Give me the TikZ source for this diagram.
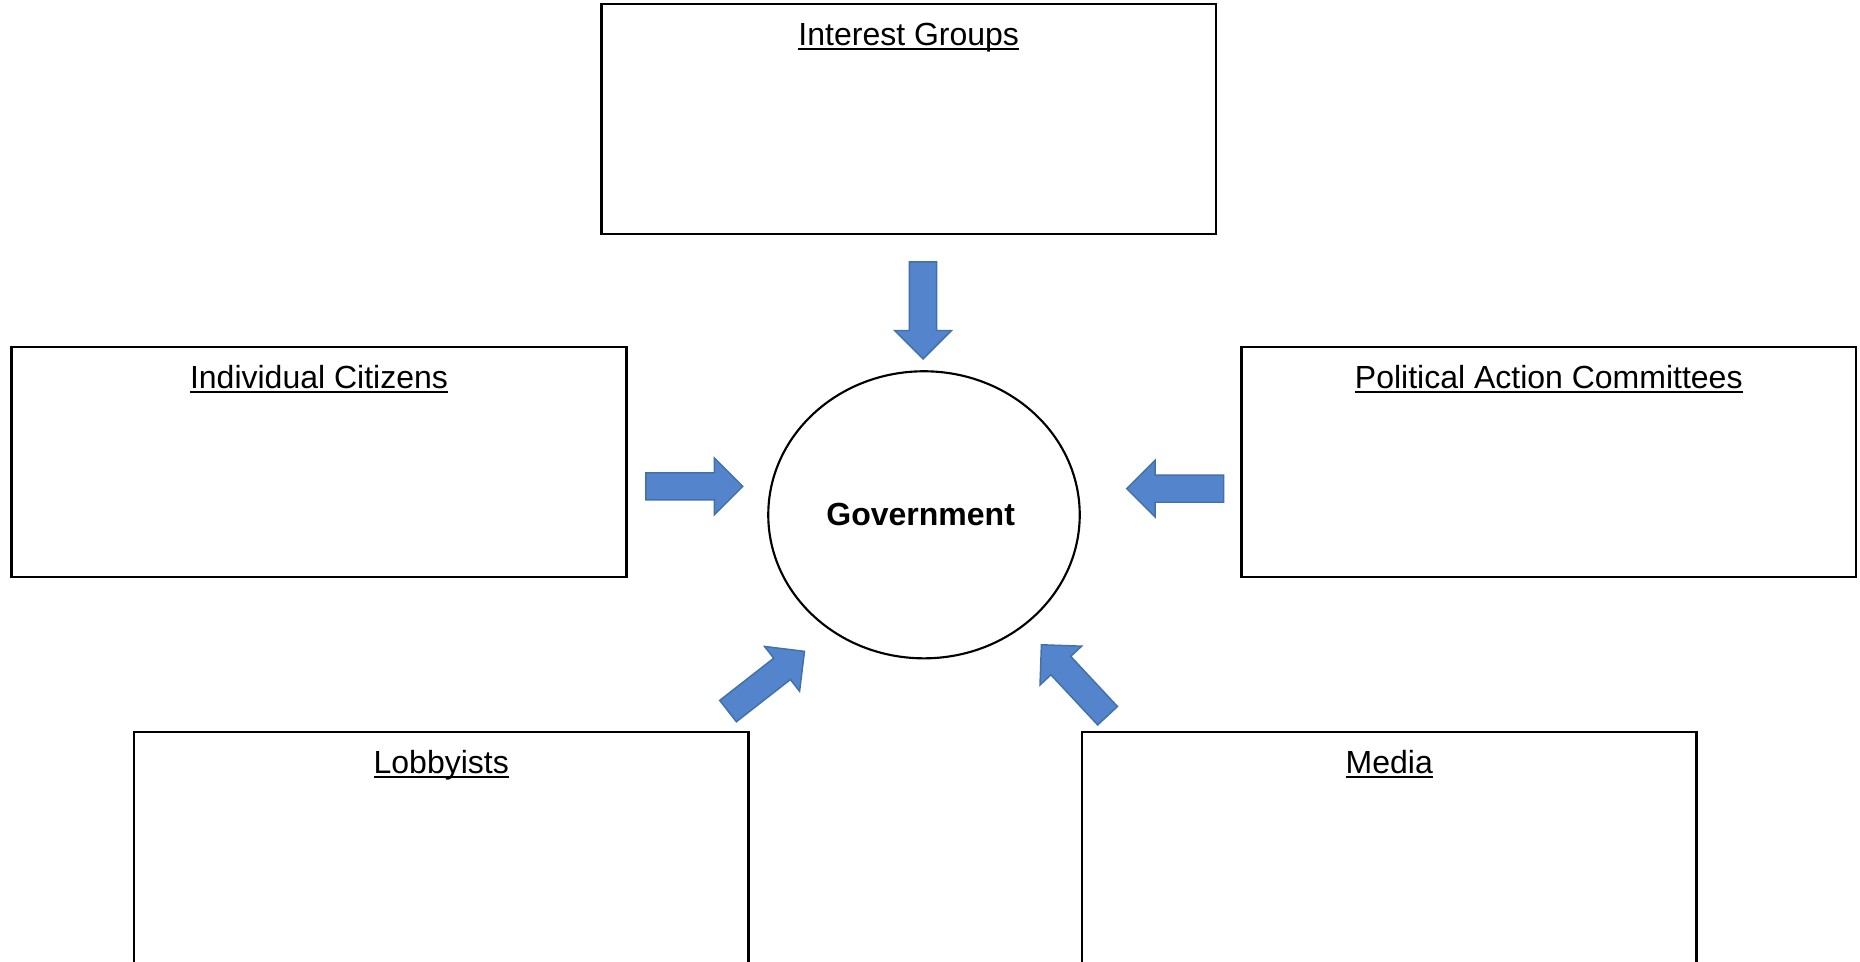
\documentclass[tikz,border=0pt]{standalone}
\usepackage{fontspec}
\setmainfont{Liberation Sans}
\usetikzlibrary{shapes.geometric,shapes.arrows,calc}
\definecolor{arrowfill}{RGB}{84,132,204}
\definecolor{arrowline}{RGB}{65,113,170}
\newcommand{\undertext}[1]{\setbox0\hbox{#1}\rlap{\rule[-0.15em]{\wd0}{0.055em}}\box0}
\tikzset{
  groupbox/.style={draw, line width=1.9pt, minimum width=460.9pt, minimum height=172.5pt, inner sep=0pt},
  grouplabel/.style={anchor=base, inner sep=0pt, font=\fontsize{24}{28}\selectfont},
  blockarrow/.style={single arrow, draw=arrowline, fill=arrowfill, line width=1.1pt, minimum height=72.75pt, inner xsep=0pt, inner ysep=9.6pt, single arrow head extend=11.2pt, anchor=tip},
}

\begin{document}
\begin{tikzpicture}[x=0.75pt,y=0.75pt,yscale=-1,xscale=1]
\useasboundingbox (0,0) rectangle (1860,961);

% Government
\node[draw, ellipse, line width=1.6pt, minimum width=233.6pt, minimum height=215.3pt, inner sep=0pt, font=\bfseries\fontsize{24}{28}\selectfont] (gov) at (924,514.8) {Government\hspace*{5pt}};

% Boxes
\node[groupbox] (ig) at (908.75,119) {};
\node[groupbox] (ic) at (319,462) {};
\node[groupbox] (pac) at (1548.75,462) {};
\node[groupbox, minimum height=180pt] (lob) at (441.25,852) {};
\node[groupbox, minimum height=180pt] (med) at (1389.25,852) {};

% Text Node
\node[grouplabel] (igtext) at ($(ig.north)+(0,42.5)$) {\undertext{Interest Groups}};
\node[grouplabel] (ictext) at ($(ic.north)+(0,42.5)$) {\undertext{Individual Citizens}};
\node[grouplabel] (pactext) at ($(pac.north)+(0,42.5)$) {\undertext{Political Action Committees}};
\node[grouplabel] (lobtext) at ($(lob.north)+(0,42.5)$) {\undertext{Lobbyists}};
\node[grouplabel] (medtext) at ($(med.north)+(0,42.5)$) {\undertext{Media}};

% Arrows
\node[blockarrow, rotate=-90] (igarrow) at (923,360) {};
\node[blockarrow, rotate=0] (icarrow) at (743.8,486.3) {};
\node[blockarrow, rotate=180] (pacarrow) at (1125.7,488.7) {};
\node[blockarrow, rotate=38] (lobarrow) at (805.3,650.7) {};
\node[blockarrow, rotate=133] (medarrow) at (1040.7,644) {};

\end{tikzpicture}
\end{document}
